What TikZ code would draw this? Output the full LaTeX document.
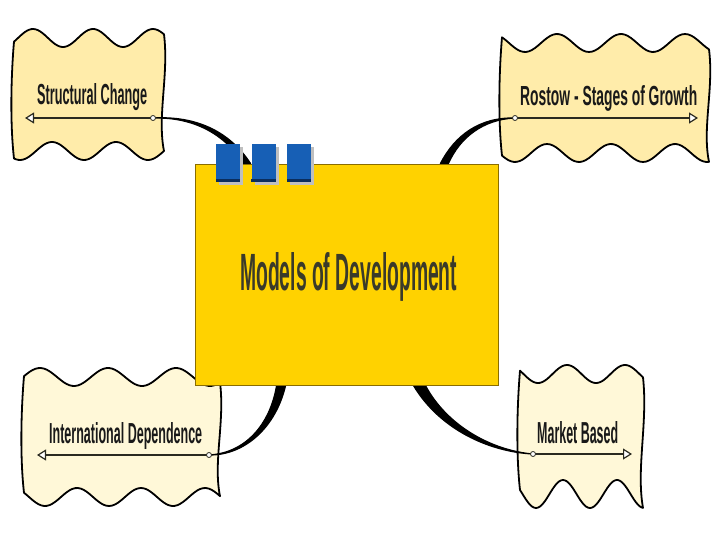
\documentclass[tikz,border=0pt]{standalone}
\usepackage{fontspec}
\setmainfont{Liberation Sans}
\usepackage{graphicx}
\usetikzlibrary{arrows.meta,calc,shadows}
\definecolor{cloudA}{HTML}{FFECAA}
\definecolor{cloudB}{HTML}{FFF8D8}
\definecolor{gold}{HTML}{FFD200}
\definecolor{goldedge}{HTML}{8A6D00}
\definecolor{tabblue}{HTML}{175FB5}
\definecolor{tabdark}{HTML}{0B2D5C}
\definecolor{titletext}{HTML}{3A3A2A}
\definecolor{arrowline}{HTML}{2A2A20}
\pgfdeclarelayer{back}
\pgfdeclarelayer{mid}
\pgfsetlayers{back,mid,main}
\def\cloudfill{cloudA}
\newcommand{\wavecloud}[9]{%
 \pgfmathsetmacro\ytl{#3-9*cos((#1-#4)*(360/#7))}%
 \pgfmathsetmacro\ytr{#3-9*cos((#2-#4)*(360/#7))}%
 \pgfmathsetmacro\ybr{#5-#9*cos((#2-#6)*(360/#8))}%
 \pgfmathsetmacro\ybl{#5-#9*cos((#1-#6)*(360/#8))}%
 \filldraw[cloud] plot[domain=#1:#2,samples=70,smooth] (\x,{#3-9*cos((\x-#4)*(360/#7))})
   .. controls ({#2+5},{\ytr+0.35*(\ybr-\ytr)}) and ({#2-7},{\ytr+0.7*(\ybr-\ytr)}) .. (#2,\ybr)
   -- plot[domain=#2:#1,samples=70,smooth] (\x,{#5-#9*cos((\x-#6)*(360/#8))})
   .. controls ({#1-4},{\ybl-0.3*(\ybl-\ytl)}) and ({#1-3},{\ytl+0.3*(\ybl-\ytl)}) .. (#1,\ytl) -- cycle;}
\tikzset{
  cloud/.style={draw=black, line width=1.8pt, line join=round, fill=\cloudfill},
  conn/.style={fill=black, draw=black, line width=1.2pt, line join=round},
  arr/.style={draw=arrowline, line width=2.2pt, -{Triangle[length=9pt,width=11pt,line width=1.2pt,fill=white]}},
  dot/.style={circle, draw=arrowline, fill=white, line width=0.8pt, minimum size=5pt, inner sep=0pt},
  lbl/.style={anchor=base west, inner sep=0pt, text=black!90},
  mainbox/.style={draw=goldedge, line width=0.8pt, fill=gold, minimum width=303pt, minimum height=221pt, inner sep=0pt},
  tabbox/.style={fill=tabblue, minimum width=24pt, minimum height=38pt, inner sep=0pt,
     drop shadow={shadow xshift=3pt, shadow yshift=-3pt, fill=black!25, opacity=1}},
  titlelbl/.style={anchor=base west, inner sep=0pt, text=titletext}
}
\begin{document}
\begin{tikzpicture}[x=1pt,y=-1pt]
\useasboundingbox (0,0) rectangle (720,540);
\begin{pgfonlayer}{back}
  \fill[white] (0,0) rectangle (720,540);
  \def\cloudfill{cloudA}
  \wavecloud{14}{164}{38}{33}{151}{52}{60}{64}{9}
  \wavecloud{502}{709}{43}{557}{153}{547}{64}{64}{9}
  \def\cloudfill{cloudB}
  \wavecloud{24}{220}{377}{40}{497}{77}{68}{64}{9}
  \wavecloud{520}{643}{374}{567}{494}{563}{58}{54}{14}
\end{pgfonlayer}

% arrow lines on clouds
\coordinate (tlc) at (153,118); \coordinate (tlt) at (25,118);
\coordinate (trc) at (515,118); \coordinate (trt) at (698,118);
\coordinate (blc) at (209,455); \coordinate (blt) at (37,455);
\coordinate (brc) at (533,454); \coordinate (brt) at (632,454);
\draw[arr] (tlc) -- (tlt);
\draw[arr] (trc) -- (trt);
\draw[arr] (blc) -- (blt);
\draw[arr] (brc) -- (brt);
\node[dot] (tld) at (tlc) {};
\node[dot] (trd) at (trc) {};
\node[dot] (bld) at (blc) {};
\node[dot] (brd) at (brc) {};

\node[lbl] (sc) at (37,105) {\resizebox{110pt}{21pt}{\bfseries Structural Change}};
\node[lbl] (rs) at (520,106) {\resizebox{177pt}{20pt}{\bfseries Rostow - Stages of Growth}};
\node[lbl] (idp) at (49,443) {\resizebox{153pt}{21pt}{\bfseries International Dependence}};
\node[lbl] (mb) at (537,443) {\resizebox{81pt}{22pt}{\bfseries Market Based}};

% central box
\node[mainbox] (main) at (346.5,274.5) {};
\node[titlelbl] (title) at (240,290) {\resizebox{217pt}{38pt}{\bfseries Models of Development}};

% connectors (behind box)
\begin{pgfonlayer}{mid}
\filldraw[conn] (tlc) .. controls (195,117) and (225,135) .. ($(main.north west)+(49,0)$)
   -- ($(main.north west)+(56,0)$) .. controls (230,132) and (197,115.5) .. (tlc) -- cycle;
\filldraw[conn] (trc) .. controls (480,117) and (455,135) .. ($(main.north east)+(-58,0)$)
   -- ($(main.north east)+(-50,0)$) .. controls (460,137.5) and (483,119.5) .. (trc) -- cycle;
\filldraw[conn] (blc) .. controls (245,453) and (270,425) .. ($(main.south west)+(82,0)$)
   -- ($(main.south west)+(91,0)$) .. controls (276,427) and (245,455.5) .. (blc) -- cycle;
\filldraw[conn] (brc) .. controls (490,452) and (440,430) .. ($(main.south east)+(-85,0)$)
   -- ($(main.south east)+(-73,0)$) .. controls (447,426) and (492,450.5) .. (brc) -- cycle;
\end{pgfonlayer}

% tabs
\node[tabbox] (tab1) at (228,163) {};
\node[tabbox] (tab2) at (263.5,163) {};
\node[tabbox] (tab3) at (299,163) {};
\foreach \t in {tab1,tab2,tab3}
  \draw[tabdark, line width=3pt] ([yshift=1.5pt]\t.south west) -- ([yshift=1.5pt]\t.south east);
\end{tikzpicture}
\end{document}
